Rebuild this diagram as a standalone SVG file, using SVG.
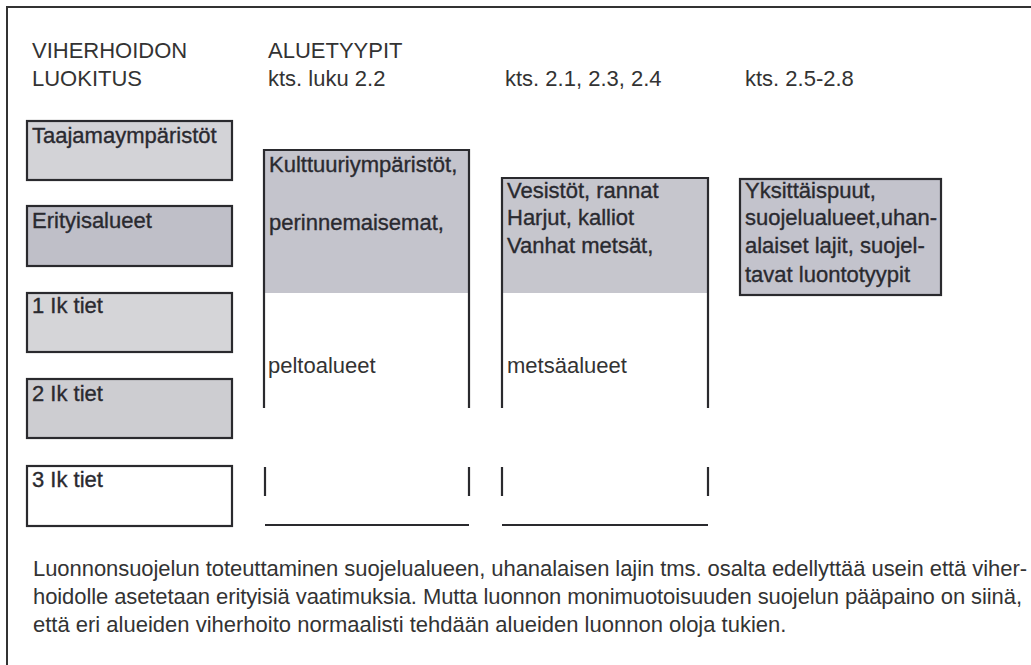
<svg xmlns="http://www.w3.org/2000/svg" width="1031" height="665" viewBox="0 0 1031 665">
<style>
text{font-family:"Liberation Sans",Arial,sans-serif;font-size:22px;fill:#2a2a2e}
.hd{fill:#333}
.bx{stroke:#2a2a35;stroke-width:0.35}
.box{stroke:#2a2a2e;stroke-width:2.2}
.ln{stroke:#2a2a2e;stroke-width:2.2;fill:none}
.frame{stroke:#333;stroke-width:2;fill:none}
</style>
<rect width="1031" height="665" fill="#fff"/>
<path class="frame" d="M7,665 V7 H1031"/>
<g id="headers">
<text class="hd" x="32" y="58">VIHERHOIDON</text>
<text class="hd" x="32" y="86">LUOKITUS</text>
<text class="hd" x="268" y="58">ALUETYYPIT</text>
<text class="hd" x="268" y="86">kts. luku 2.2</text>
<text class="hd" x="505" y="86">kts. 2.1, 2.3, 2.4</text>
<text class="hd" x="745" y="86">kts. 2.5-2.8</text>
</g>
<g id="taajama"><rect class="box" x="27" y="121" width="205" height="59" fill="#d3d3d7"/><text class="bx" x="32" y="143">Taajamaympäristöt</text></g>
<g id="erityis"><rect class="box" x="27" y="206" width="205" height="60" fill="#bfbfc8"/><text class="bx" x="32" y="228">Erityisalueet</text></g>
<g id="ik1"><rect class="box" x="27" y="293" width="205" height="59" fill="#d5d5d8"/><text class="bx" x="32" y="313">1 Ik tiet</text></g>
<g id="ik2"><rect class="box" x="27" y="379" width="205" height="59" fill="#cdcdd1"/><text class="bx" x="32" y="401">2 Ik tiet</text></g>
<g id="ik3"><rect class="box" x="27" y="466" width="205" height="60" fill="#fff"/><text class="bx" x="32" y="487">3 Ik tiet</text></g>
<g id="kulttuuri">
<rect x="264" y="150" width="205" height="143" fill="#c4c4cc"/>
<text class="bx" x="269" y="172">Kulttuuriympäristöt,</text>
<text class="bx" x="269" y="230">perinnemaisemat,</text>
<text class="hd" x="268" y="373">peltoalueet</text>
</g>
<g id="vesistot">
<rect x="502" y="178" width="206" height="115" fill="#c6c6cd"/>
<text class="bx" x="507" y="198">Vesistöt, rannat</text>
<text class="bx" x="507" y="225">Harjut, kalliot</text>
<text class="bx" x="507" y="253">Vanhat metsät,</text>
<text class="hd" x="507" y="373">metsäalueet</text>
</g>
<g id="yksittais">
<rect class="box" x="740" y="179" width="201" height="116" fill="#c3c3cc"/>
<text class="bx" x="745" y="198">Yksittäispuut,</text>
<text class="bx" x="745" y="225">suojelualueet,uhan-</text>
<text class="bx" x="745" y="253">alaiset lajit, suojel-</text>
<text class="bx" x="745" y="282">tavat luontotyypit</text>
</g>
<g id="connectors">
<path class="ln" d="M264,408 V150 H469 V408"/>
<path class="ln" d="M502,408 V178 H708 V408"/>
<path class="ln" d="M265,467 V496 M469,467 V496 M502,467 V496 M708,467 V496"/>
<path class="ln" d="M265,525 H469 M502,525 H708"/>
</g>
<g id="paragraph">
<text class="hd" x="33" y="576" textLength="994" lengthAdjust="spacing">Luonnonsuojelun toteuttaminen suojelualueen, uhanalaisen lajin tms. osalta edellyttää usein että viher-</text>
<text class="hd" x="33" y="604" textLength="989" lengthAdjust="spacing">hoidolle asetetaan erityisiä vaatimuksia. Mutta luonnon monimuotoisuuden suojelun pääpaino on siinä,</text>
<text class="hd" x="33" y="632">että eri alueiden viherhoito normaalisti tehdään alueiden luonnon oloja tukien.</text>
</g>
</svg>
